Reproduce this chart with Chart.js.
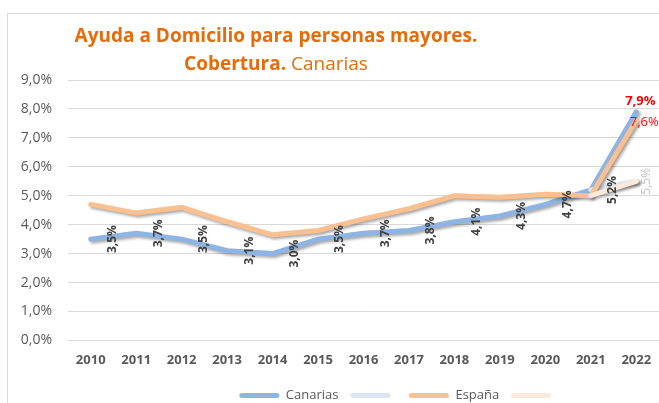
<!DOCTYPE html>
<html>
<head>
<meta charset="utf-8">
<script src="https://cdn.jsdelivr.net/npm/chart.js@4"></script>
<style>
  html, body { margin: 0; padding: 0; background: #fff; overflow: hidden; }
  #wrap { position: relative; width: 659px; height: 403px; overflow: hidden; }
  #frame { position: absolute; left: 7px; top: 13px; width: 700px; height: 450px; border: 1px solid #d9d9d9; }
  #title { position: absolute; left: 0; top: 21px; width: 552px; text-align: center;
           font-family: "Open Sans", sans-serif; font-size: 19px; line-height: 28px; color: #e46c0a; }
  #title b { font-weight: 700; }
  #title span { font-weight: 400; }
  canvas { position: absolute; left: 0; top: 0; }
</style>
</head>
<body>
<div id="wrap">
  <div id="frame"></div>
  <canvas id="chart" width="659" height="412"></canvas>
  <div id="title">
    <div><b>Ayuda a Domicilio para personas mayores.</b></div>
    <div><b>Cobertura.</b> <span>Canarias</span></div>
  </div>
</div>
<script>
// data
const years = ["2010", "2011", "2012", "2013", "2014", "2015", "2016", "2017", "2018", "2019", "2020", "2021", "2022"];
const canarias = [3.5, 3.7, 3.5, 3.1, 3.0, 3.5, 3.7, 3.8, 4.1, 4.3, 4.7, 5.2, 7.9];
const canariasAlt = [null, null, null, null, null, null, null, null, null, null, null, 5.2, 5.5];
const espana = [4.7, 4.4, 4.6, 4.1, 3.65, 3.8, 4.2, 4.55, 5.0, 4.95, 5.05, 5.0, 7.6];
const espanaAlt = [null, null, null, null, null, null, null, null, null, null, null, 5.0, 5.5];

const fmt = (v) => v.toFixed(1).replace(".", ",") + "%";

// drop shadow under every line
const shadowPlugin = {
  id: "shadow",
  beforeDatasetDraw(chart) {
    const ctx = chart.ctx;
    ctx.save();
    ctx.shadowColor = "rgba(0,0,0,0.35)";
    ctx.shadowBlur = 3;
    ctx.shadowOffsetX = 2;
    ctx.shadowOffsetY = 2;
  },
  afterDatasetDraw(chart) {
    chart.ctx.restore();
  }
};

// legend sits right of centre in the original
const legendShift = {
  id: "legendShift",
  afterLayout(chart) {
    chart.legend.left += 69;
    chart.legend.right += 69;
  }
};

// value labels
const labelPlugin = {
  id: "valueLabels",
  afterDatasetsDraw(chart) {
    const ctx = chart.ctx;
    const m0 = chart.getDatasetMeta(0);
    const m2 = chart.getDatasetMeta(2);
    const m3 = chart.getDatasetMeta(3);
    const last = years.length - 1;

    function rotated(text, x, y, font, color) {
      ctx.save();
      ctx.translate(x, y);
      ctx.rotate(-Math.PI / 2);
      ctx.font = font;
      ctx.fillStyle = color;
      ctx.textAlign = "center";
      ctx.textBaseline = "middle";
      ctx.fillText(text, 0, 0);
      ctx.restore();
    }

    for (let i = 0; i < last; i++) {
      const p = m0.data[i];
      rotated(fmt(canarias[i]), p.x + 22, p.y, "bold 12px 'Open Sans'", "#404040");
    }

    ctx.save();
    ctx.textAlign = "center";
    ctx.textBaseline = "middle";
    let p = m0.data[last];
    ctx.font = "bold 13px 'Open Sans'";
    ctx.fillStyle = "#ff0000";
    ctx.fillText(fmt(canarias[last]), p.x + 4, p.y - 11);
    p = m2.data[last];
    ctx.font = "13px 'Open Sans'";
    ctx.fillText(fmt(espana[last]), p.x + 8, p.y + 2);
    ctx.restore();

    p = m3.data[last];
    rotated(fmt(espanaAlt[last]), p.x + 10, p.y, "12px 'Open Sans'", "#bfbfbf");
  }
};

const lineStyle = {
  borderWidth: 5,
  pointRadius: 0,
  tension: 0,
  borderJoinStyle: "round",
  borderCapStyle: "round",
  spanGaps: false
};

new Chart(document.getElementById("chart"), {
  type: "line",
  data: {
    labels: years,
    datasets: [
      { ...lineStyle, label: "Canarias", data: canarias, borderColor: "#8db4e3", backgroundColor: "#8db4e3", order: 4 },
      { ...lineStyle, label: "", data: canariasAlt, borderColor: "#dce6f2", backgroundColor: "#dce6f2", order: 3 },
      { ...lineStyle, label: "España", data: espana, borderColor: "#fac090", backgroundColor: "#fac090", order: 2 },
      { ...lineStyle, label: "", data: espanaAlt, borderColor: "#fde9d9", backgroundColor: "#fde9d9", order: 1 }
    ]
  },
  options: {
    responsive: false,
    animation: false,
    layout: { padding: { top: 80, right: 0, left: 0, bottom: 0 } },
    plugins: {
      tooltip: { enabled: false },
      title: { display: false },
      legend: {
        position: "bottom",
        labels: {
          boxWidth: 40,
          boxHeight: 5,
          padding: 12,
          color: "#595959",
          font: { family: "'Open Sans'", size: 13 },
          useBorderRadius: true,
          borderRadius: 2.5,
          sort: (a, b) => a.datasetIndex - b.datasetIndex,
          generateLabels(chart) {
            return Chart.defaults.plugins.legend.labels.generateLabels(chart).map((l) => ({ ...l, lineWidth: 0 }));
          }
        }
      }
    },
    scales: {
      x: {
        offset: true,
        grid: { display: false },
        border: { display: false },
        afterFit(scale) { scale.height += 5; },
        ticks: { color: "#595959", font: { family: "'Open Sans'", size: 13, weight: "bold" }, padding: 4 }
      },
      y: {
        min: 0,
        max: 9,
        afterFit(scale) { scale.width = 68; },
        grid: { color: "#d9d9d9", drawTicks: false },
        border: { display: false },
        ticks: {
          stepSize: 1,
          padding: 16,
          color: "#595959",
          font: { family: "'Open Sans'", size: 14 },
          callback: (v) => fmt(v)
        }
      }
    }
  },
  plugins: [shadowPlugin, legendShift, labelPlugin]
});
</script>
</body>
</html>
